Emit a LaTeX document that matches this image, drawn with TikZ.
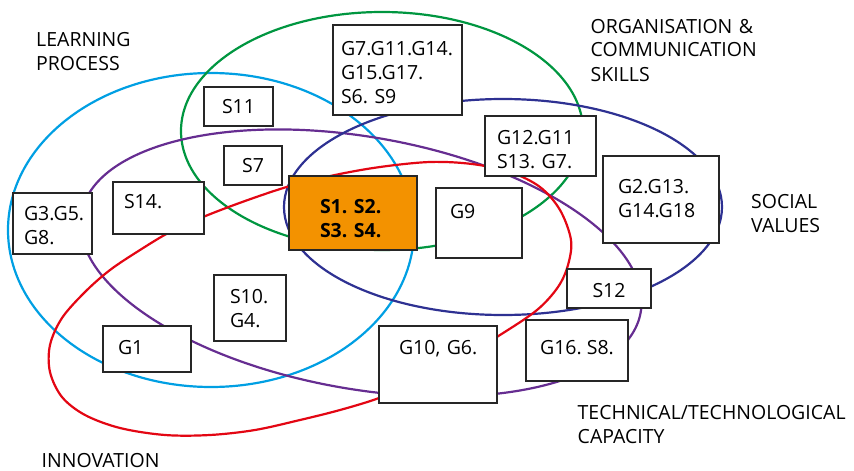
\documentclass[tikz,border=0pt]{standalone}
\usepackage{fontspec}
\setmainfont{Open Sans}
\definecolor{lpblue}{RGB}{0,159,227}
\definecolor{orggreen}{RGB}{0,150,64}
\definecolor{techpurple}{RGB}{102,45,145}
\definecolor{socnavy}{RGB}{46,49,146}
\definecolor{innred}{RGB}{227,6,19}
\definecolor{coreorange}{RGB}{243,146,0}
\newcommand\dfont{\fontsize{19.5}{24}\selectfont}
\begin{document}
\begin{tikzpicture}[x=1pt,y=-1pt,
  ring/.style={line width=2.2pt},
  box/.style={draw=black!85,line width=1.3pt,fill=white,inner sep=0pt,
    text height=20pt,align=left,font=\dfont},
  lbl/.style={inner sep=0pt,anchor=base west,align=left,font=\dfont}
]
\useasboundingbox (0,0) rectangle (854,471);

% rings
\draw[ring,lpblue] (211,230) ellipse [x radius=203, y radius=157];
\draw[ring,orggreen] (382,131) ellipse [x radius=201, y radius=119];
\draw[ring,techpurple,rotate around={-10:(361,263)}] (361,263) ellipse [x radius=284, y radius=126];
\draw[ring,socnavy] (503,207) ellipse [x radius=219, y radius=108];
\draw[ring,innred] plot[smooth cycle, tension=0.55] coordinates {
  (571,240) (568,265) (558,287) (537,310) (500,335) (455,362) (415,382)
  (379,398) (340,410) (300,420) (255,430) (210,435) (165,435) (120,428)
  (85,415) (62,397) (50,372) (50,345) (62,318) (85,292) (110,270)
  (140,250) (170,232) (203,217) (245,201) (290,186) (335,175) (380,167)
  (430,162) (472,164) (510,172) (540,187) (560,210)};

% boxes
\node[box, minimum width=69pt, minimum height=39pt, align=center, text depth=7pt] (s11) at (238.5,106.5) {S11};
\node[box, minimum width=58pt, minimum height=39pt, align=center, text depth=7pt] (s7) at (253,165.5) {S7};
\node[box, minimum width=91pt, minimum height=52pt, text width=69pt, text depth=20pt] (s14) at (158.5,208) {S14.};
\node[box, minimum width=79pt, minimum height=61pt, text width=57pt, text depth=27pt] (g3) at (52.5,223.5) {G3.G5.\\G8.};
\node[box, fill=coreorange, minimum width=128pt, minimum height=74pt, text width=66pt, text depth=20pt, font=\dfont\bfseries] (core) at (353,213) {S1.~S2.\\S3.~S4.};
\node[box, minimum width=129pt, minimum height=90pt, text width=113pt, text depth=50pt] (g7) at (397.5,70) {G7.G11.G14.\\G15.G17.\\S6.~S9};
\node[box, minimum width=111pt, minimum height=60pt, text width=87pt, text depth=24pt] (g12) at (540.5,146) {G12.G11\\S13.~G7.};
\node[box, minimum width=86pt, minimum height=70pt, text width=58pt, text depth=30pt] (g9) at (479,223) {G9};
\node[box, minimum width=116pt, minimum height=87pt, text width=86pt, text depth=33pt] (g2) at (661,199.5) {G2.G13.\\G14.G18};
\node[box, minimum width=84pt, minimum height=39pt, align=center, text depth=3pt] (s12) at (609,288.5) {S12};
\node[box, minimum width=102pt, minimum height=61pt, align=center, text depth=13pt] (g16) at (577,350.5) {G16.~S8.};
\node[box, minimum width=118pt, minimum height=77pt, text width=78pt, text depth=41pt] (g10) at (438,364.5) {G10,~G6.};
\node[box, minimum width=72pt, minimum height=66pt, text width=40pt, text depth=30pt] (s10) at (250,308) {S10.\\G4.};
\node[box, minimum width=88pt, minimum height=46pt, text width=58pt, text depth=10pt] (g1) at (147,349) {G1};

% labels
\node[lbl, text width=150pt] (lp) at (36,46.5) {LEARNING\\PROCESS};
\node[lbl, text width=230pt] (oc) at (590.5,33) {ORGANISATION \&\\COMMUNICATION\\SKILLS};
\node[lbl, text width=100pt] (sv) at (751,208) {SOCIAL\\VALUES};
\node[lbl, text width=300pt] (tc) at (577.5,419) {TECHNICAL/TECHNOLOGICAL\\CAPACITY};
\node[lbl, text width=150pt] (in) at (41.5,467.5) {INNOVATION};
\end{tikzpicture}
\end{document}
